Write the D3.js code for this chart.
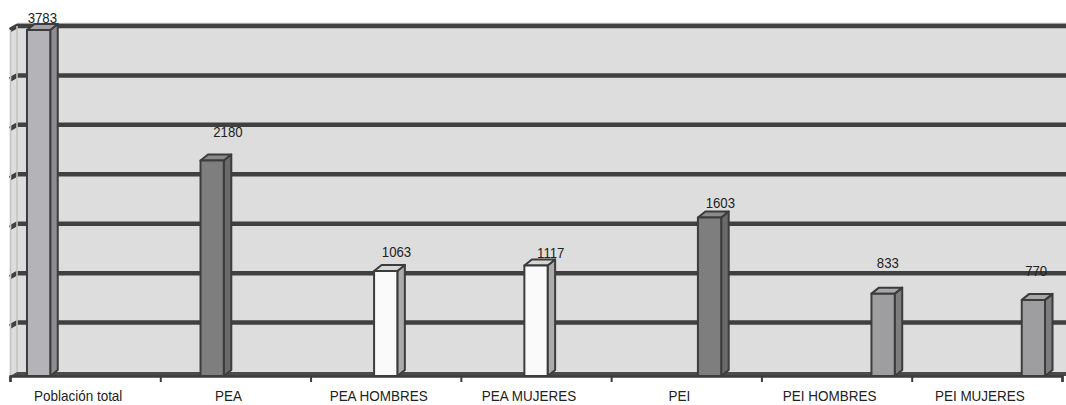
<!DOCTYPE html>
<html>
<head>
<meta charset="utf-8">
<script src="https://cdn.jsdelivr.net/npm/d3@7"></script>
<style>
  body { margin: 0; background: #fff; }
  svg { display: block; font-family: "Liberation Sans", Arial, sans-serif; }
</style>
</head>
<body>
<svg id="chart" width="1066" height="405"></svg>
<script>
// chart data
const categories = ["Población total", "PEA", "PEA HOMBRES", "PEA MUJERES", "PEI", "PEI HOMBRES", "PEI MUJERES"];
const values = [3783, 2180, 1063, 1117, 1603, 833, 770];
const seriesOf = [0, 1, 2, 2, 3, 4, 4];   // series slot of each bar
const seriesIds = [0, 1, 2, 3, 4];
const yTicks = [0, 500, 1000, 1500, 2000, 2500, 3000, 3500];

// label nudges (px) from the top of each bar, as placed in the original
const labelNudge = [[0, -7], [12, -23], [7, -14], [11, -8], [7, -10], [1, -26], [-1, -24]];

const palette = {
  0: { front: '#b4b4b8', side: '#8e8e92', top: '#a2a2a6' },
  1: { front: '#7e7e7e', side: '#6a6a6a', top: '#8a8a8a' },
  2: { front: '#fafafa', side: '#ababab', top: '#d6d6d6' },
  3: { front: '#7e7e7e', side: '#6a6a6a', top: '#8a8a8a' },
  4: { front: '#9e9ea0', side: '#7e7e80', top: '#a8a8aa' }
};

const edge = '#3c3c3c';
const wallDx = 7, wallDy = 4;   // depth of walls / floor
const barDx = 7.5, barDy = 6;   // depth of bars
const left = 10, right = 1062;

const svg = d3.select('#chart');

const x = d3.scaleBand()
  .domain(categories)
  .range([left, right]);

const xSeries = d3.scaleBand()
  .domain(seriesIds)
  .range([0, x.bandwidth()])
  .paddingInner(0)
  .paddingOuter(0.73);

const yMax = d3.max(yTicks);
const yFront = d3.scaleLinear().domain([0, yMax]).range([376, 30]);
const yBack = d3.scaleLinear().domain([0, yMax]).range([376 - wallDy, 30 - wallDy]);

// Back wall
svg.append('rect')
  .attr('x', left + wallDx)
  .attr('y', yBack(yMax))
  .attr('width', 1066 - left - wallDx + 10)
  .attr('height', yBack(0) - yBack(yMax))
  .attr('fill', '#dddddd');

svg.append('line')
  .attr('x1', left + wallDx).attr('x2', 1070)
  .attr('y1', yBack(yMax) - 2.5).attr('y2', yBack(yMax) - 2.5)
  .attr('stroke', '#c2c2c2').attr('stroke-width', 1.5);

// Left wall
svg.append('path')
  .attr('d', `M${left},${yFront(yMax)} L${left + wallDx},${yBack(yMax)} L${left + wallDx},${yBack(0)} L${left},${yFront(0)} Z`)
  .attr('fill', '#dddddd');

// Gridlines on the back wall and the left wall
const grid = svg.append('g');
grid.selectAll('.gl')
  .data(yTicks.filter(d => d > 0))
  .enter()
  .append('path')
  .attr('d', d => `M${left},${yFront(d)} L${left + wallDx},${yBack(d)} L1070,${yBack(d)}`)
  .attr('fill', 'none')
  .attr('stroke', '#404040')
  .attr('stroke-width', 4.5);

// Left wall edges
[left + 0.5, left + wallDx].forEach(xx => {
  svg.append('line')
    .attr('x1', xx).attr('x2', xx)
    .attr('y1', xx < left + 2 ? yFront(yMax) : yBack(yMax))
    .attr('y2', xx < left + 2 ? yFront(0) : yBack(0))
    .attr('stroke', '#c4c4c4').attr('stroke-width', 1.6);
});

// Floor
svg.append('path')
  .attr('d', `M${left},${yFront(0)} L${left + wallDx},${yBack(0)} L1070,${yBack(0)} L1070,${yFront(0)} Z`)
  .attr('fill', '#4a4a4a');

// Bars (3D look: front, side, top)
const bars = svg.append('g');
values.forEach((v, i) => {
  const c = palette[seriesOf[i]];
  const bw = xSeries.bandwidth();
  const x0 = x(categories[i]) + xSeries(seriesOf[i]);
  const yt = yFront(Math.min(v, yMax));
  const yb = yFront(0);
  const g = bars.append('g')
    .attr('stroke', edge)
    .attr('stroke-width', 2)
    .attr('stroke-linejoin', 'round');

  g.append('path')
    .attr('d', `M${x0 + bw},${yt} L${x0 + bw + barDx},${yt - barDy} L${x0 + bw + barDx},${yb - barDy} L${x0 + bw},${yb} Z`)
    .attr('fill', c.side);
  g.append('path')
    .attr('d', `M${x0},${yt} L${x0 + barDx},${yt - barDy} L${x0 + bw + barDx},${yt - barDy} L${x0 + bw},${yt} Z`)
    .attr('fill', c.top);
  g.append('rect')
    .attr('x', x0).attr('y', yt)
    .attr('width', bw).attr('height', yb - yt)
    .attr('fill', c.front);

  // value label
  svg.append('text')
    .attr('transform', `translate(${x0 + (bw + barDx) / 2 + labelNudge[i][0]}, ${yt + labelNudge[i][1]}) scale(0.88,1)`)
    .attr('text-anchor', 'middle')
    .style('font-size', '15px')
    .style('fill', '#222')
    .text(v);
});

// X axis: ticks at category boundaries
const xIdx = d3.scaleLinear().domain([0, categories.length]).range([left, right]);
const axis = svg.append('g')
  .attr('transform', `translate(0, ${yFront(0)})`)
  .call(d3.axisBottom(xIdx).ticks(categories.length).tickSize(6).tickFormat(''));
axis.select('.domain').attr('stroke', '#3c3c3c').attr('stroke-width', 2.5);
axis.selectAll('.tick line').attr('stroke', '#3c3c3c').attr('stroke-width', 2);

// Category labels
svg.append('g')
  .selectAll('text')
  .data(categories)
  .enter()
  .append('text')
  .attr('transform', d => `translate(${x(d) + x.bandwidth() / 2 - 7}, 401) scale(0.9,1)`)
  .attr('text-anchor', 'middle')
  .style('font-size', '15px')
  .style('fill', '#222')
  .text(d => d);
</script>
</body>
</html>
